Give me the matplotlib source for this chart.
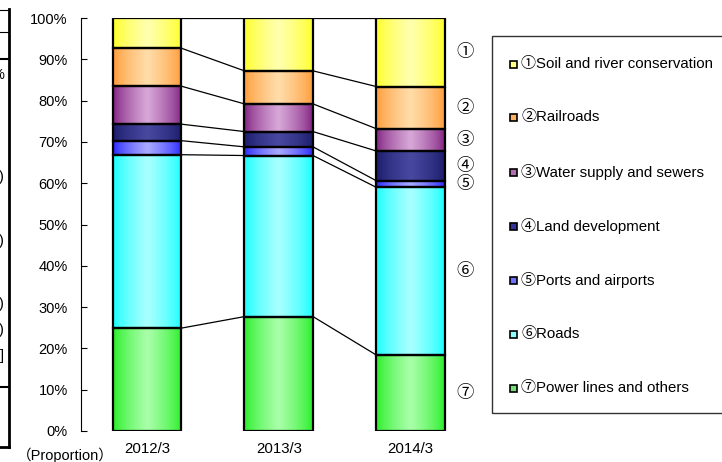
import numpy as np
import matplotlib
matplotlib.use("Agg")
import matplotlib.pyplot as plt
from matplotlib.patches import Rectangle
from matplotlib.colors import to_rgb
from matplotlib.lines import Line2D

plt.rcParams['font.family'] = ['Liberation Sans', 'Noto Sans CJK JP', 'DejaVu Sans']

# ---- data ----
categories = ['2012/3', '2013/3', '2014/3']
marks = ['①', '②', '③', '④', '⑤', '⑥', '⑦']
series_names = ['Soil and river conservation', 'Railroads', 'Water supply and sewers',
                'Land development', 'Ports and airports', 'Roads', 'Power lines and others']
soil = [7.3, 12.8, 16.6]
rail = [9.2, 8.0, 10.2]
water = [9.2, 6.7, 5.4]
land = [4.0, 3.7, 7.2]
ports = [3.4, 2.1, 1.6]
roads = [42.0, 39.0, 40.6]
power = [24.9, 27.7, 18.4]
series_values = [soil, rail, water, land, ports, roads, power]
yticks = [0, 10, 20, 30, 40, 50, 60, 70, 80, 90, 100]

# ---- styles ----
edge_cols = ['#FFFF22', '#FF9933', '#7E1E7E', '#1A1A6A', '#2222FF', '#11FFFF', '#22EE22']
center_cols = ['#FFFFB0', '#FFDDAA', '#D8A8D8', '#4848A0', '#AAAAFF', '#AAFFFF', '#AAFFAA']
legend_cols = ['#FFFF88', '#FFB060', '#B070B0', '#333399', '#7070FF', '#88FFFF', '#77DD77']

W, H = 722, 462
fig = plt.figure(figsize=(W / 100, H / 100), dpi=100)
ax = fig.add_axes([81 / W, 31 / H, 395.5 / W, 413 / H])

bar_w = 0.52
x = np.arange(len(categories))

def gradient_img(c_edge, c_center, n=64):
    e = np.array(to_rgb(c_edge))
    c = np.array(to_rgb(c_center))
    u = np.linspace(0, 1, n)
    t = 1 - np.abs(2 * u - 1)
    t = t ** 0.7
    img = e[None, :] * (1 - t[:, None]) + c[None, :] * t[:, None]
    return img[None, :, :]

# stack from bottom: series 7 (power) up to series 1 (soil)
order = list(range(len(series_values)))[::-1]
bottoms = np.zeros(len(categories))
boundaries = []
for si in order:
    vals = np.array(series_values[si])
    img = gradient_img(edge_cols[si], center_cols[si])
    for i in range(len(categories)):
        ax.imshow(img, extent=[x[i] - bar_w / 2, x[i] + bar_w / 2, bottoms[i], bottoms[i] + vals[i]],
                  aspect='auto', interpolation='bilinear', zorder=2)
        ax.add_patch(Rectangle((x[i] - bar_w / 2, bottoms[i]), bar_w, vals[i],
                               facecolor='none', edgecolor='black', linewidth=1.6, zorder=3))
    bottoms = bottoms + vals
    boundaries.append(bottoms.copy())

# connector lines
for b in boundaries:
    for i in range(len(categories) - 1):
        ax.plot([x[i] + bar_w / 2, x[i + 1] - bar_w / 2], [b[i], b[i + 1]],
                color='black', linewidth=0.9, zorder=1)

# circled numbers at right, centred on last bar's segments
last = len(categories) - 1
cum = 0.0
mids = {}
for si in order:
    v = series_values[si][last]
    mids[si] = cum + v / 2
    cum += v
for si in range(len(series_values)):
    ax.text(2.41, mids[si], marks[si], ha='center', va='center', fontsize=12.5,
            family=['Noto Sans CJK JP', 'DejaVu Sans'])

ax.set_xlim(-0.5, 2.5)
ax.set_ylim(0, 100)
ax.set_yticks(yticks)
ax.set_yticklabels([f'{v}%' for v in yticks], fontsize=10.5)
ax.set_xticks(x)
ax.set_xticklabels(categories, fontsize=10.8)
ax.tick_params(axis='x', length=0, pad=8)
ax.tick_params(axis='y', direction='in', length=4, width=0.8, pad=9.5)
for s in ['top', 'right', 'bottom']:
    ax.spines[s].set_visible(False)
ax.spines['left'].set_linewidth(0.8)

fig.text(65 / W, 1 - 455 / H, '（Proportion）', ha='center', va='center', fontsize=10.5,
         family=['Liberation Sans', 'Noto Sans CJK JP'])

# legend box (manual)
fig.add_artist(Rectangle((492 / W, 1 - 413 / H), 240 / W, 377 / H, transform=fig.transFigure,
                         facecolor='none', edgecolor='#333333', linewidth=1.0, clip_on=False))
leg_y = [64, 117, 172, 226, 280, 334, 388]
for si in range(len(series_names)):
    yy = 1 - leg_y[si] / H
    fig.add_artist(Rectangle((510 / W, yy - 3.5 / H), 7 / W, 7 / H, transform=fig.transFigure,
                             facecolor=legend_cols[si], edgecolor='black', linewidth=1.2))
    fig.text(521 / W, yy, marks[si] + series_names[si], ha='left', va='center', fontsize=10.8,
             family=['Liberation Sans', 'Noto Sans CJK JP'])

# fragments of neighbouring frame at the left edge
def fline(x0, y0, x1, y1, lw=1.5, col='black'):
    fig.add_artist(Line2D([x0 / W, x1 / W], [1 - y0 / H, 1 - y1 / H], transform=fig.transFigure,
                          color=col, linewidth=lw))
fline(9, 9, 9, 447, lw=2)
fline(0, 447, 9, 447, lw=2)
for yy in [10, 32]:
    fline(0, yy, 9, yy, lw=0.8)
fline(0, 59, 9, 59, lw=1.5)
fline(0, 387, 9, 387, lw=1.5)
for ch, yy in [('%', 75), (')', 177), (')', 241), (')', 304), (')', 330), (']', 356)]:
    fig.text(4 / W, 1 - yy / H, ch, ha='right', va='center', fontsize=10.5)

fig.savefig('out.png', dpi=100)
